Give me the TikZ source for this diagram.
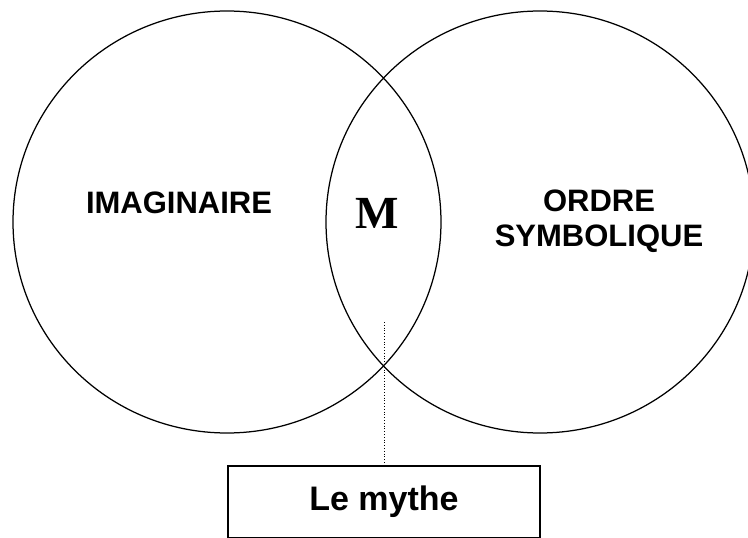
\documentclass[tikz,border=0pt]{standalone}
\usepackage{fontspec}
\setmainfont{Liberation Sans}
\newfontfamily\mserif{Liberation Serif}
\usetikzlibrary{positioning}

\begin{document}
\begin{tikzpicture}[x=1pt,y=-1pt,
    ring/.style={line width=1.25pt},
    setlabel/.style={font=\fontsize{31}{35}\selectfont\bfseries, align=center, inner sep=0pt},
    mythbox/.style={draw, line width=1.4pt, minimum width=312pt, minimum height=72pt, inner sep=0pt,
        font=\fontsize{34}{40}\selectfont\bfseries}]
    \clip (0,0) rectangle (748,538);
    \useasboundingbox (0,0) rectangle (748,538);

    % Sets
    \draw[ring] (227,222) ellipse [x radius=214, y radius=211];
    \draw[ring] (540,222) ellipse [x radius=214, y radius=211];
    \node[setlabel, anchor=base] (imag) at (179,213) {IMAGINAIRE};
    \node[setlabel] (symb) at (599,221) {ORDRE\\SYMBOLIQUE};
    \node[anchor=base, inner sep=0pt, font=\mserif\fontsize{46}{50}\selectfont\bfseries] (M) at (377,228) {M};

    % Label
    \node[mythbox] (mythe) at (384,502) {Le mythe};
    \coordinate (lens) at (384,322);
    \draw[dotted, line width=0.8pt] (lens) -- (mythe.north);
\end{tikzpicture}
\end{document}
